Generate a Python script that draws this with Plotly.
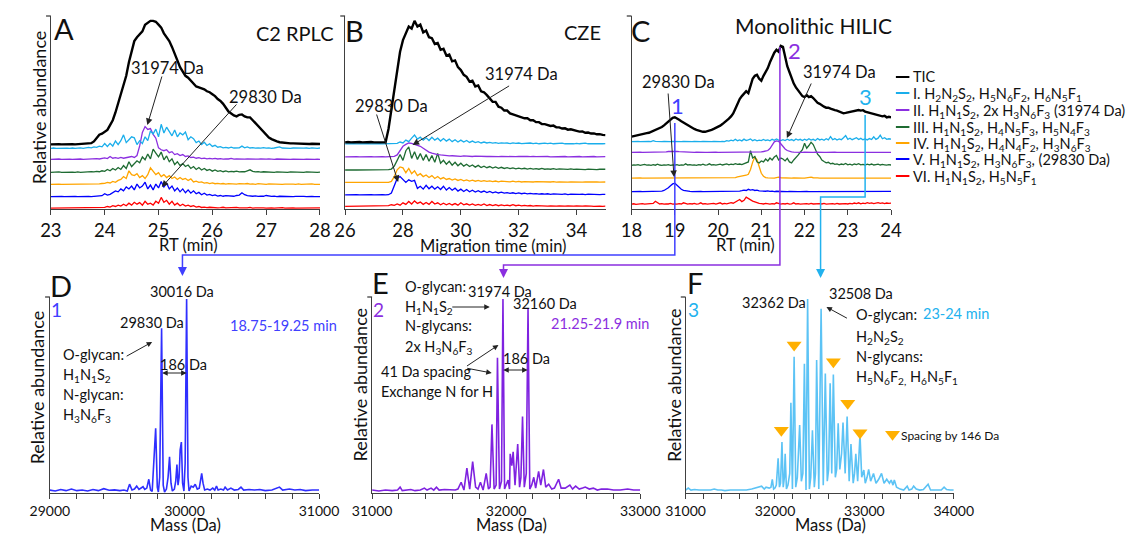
import numpy as np
import plotly.graph_objects as go

W, H = 1131, 535
FONT = "Lato"

# ---------------- DATA ----------------
# Panel A (C2 RPLC), RT 23.00 -> 28.00, step 0.05 min; intensities above each trace baseline
A_RT = (23.0, 28.0)
A_TIC = [0, 0.1, 0, 0.1, 0, 0.1, 0, 0, 0.1, 0,
         0.1, 0, 0.2, 0.3, 0.4, 0.6, 1.5, 3, 5, 5.5,
         6.5, 7.5, 10, 12.5, 16.5, 21.5, 26.5, 31.5, 35.5, 42.5,
         48.5, 53.5, 55.5, 57, 58.5, 62, 63, 64, 64, 63.5,
         62, 60.5, 57.5, 55.5, 53.5, 50.5, 46.5, 43.5, 40, 37.5,
         35.5, 34.5, 33, 31, 30, 29.5, 29, 28.5, 27.5, 27,
         26, 25, 23.5, 22.5, 21, 19, 17, 16, 15, 14.5,
         15.3, 15.5, 14.5, 14, 14, 12.5, 11, 9.5, 7.5, 6,
         4.5, 3.5, 2.7, 2, 1.5, 1.1, 0.9, 0.7, 0.6, 0.5,
         0.5, 0.4, 0.4, 0.3, 0.3, 0.3, 0.2, 0.3, 0.2, 0.2, 0.2]
A_I = [0, 0.2, 0, 0.1, 0, 0.3, 0.1, 0, 0.2, 0,
       0.1, 0.3, 0, 0.2, 0.5, 0.3, 0.8, 0.5, 1.2, 0.8,
       2.5, 1, 2.6, 1.2, 3.8, 2, 4, 7, 3, 4.5,
       6, 5.5, 2, 4, 2.5, 6, 4, 9, 7.5, 10,
       6, 12.5, 8, 11, 9, 6.5, 9.5, 6, 8, 7,
       8.5, 4.5, 6, 5, 3, 3.8, 2, 3.2, 1.5, 2.4,
       1, 1.6, 0.6, 0.9, 0.3, 0.5, 0.2, 0.6, 0.2, 0.4,
       0.3, 1.2, 0.3, 0.8, 0.2, 0.4, 0.1, 0.3, 0.1, 0.4,
       0.1, 0.3, 0, 0.2, 0.4, 0.8, 0.2, 0.1, 0.3, 0,
       0.2, 0.1, 0.3, 0, 0.1, 0.2, 0, 0.3, 0.1, 0, 0.2]
A_II = [0, 0.1, 0, 0.2, 0, 0.1, 0, 0.1, 0, 0.1,
        0, 0.2, 0, 0.1, 0.3, 0.1, 0.2, 0.4, 0.2, 0.5,
        0.8, 0.4, 1.5, 0.6, 0.9, 0.5, 1, 0.6, 0.8, 1.2,
        1.5, 1, 2, 7, 14, 17, 15.5, 16, 13, 11,
        6, 5, 4.5, 5, 3.5, 4, 2.5, 3, 2, 2.5,
        1.5, 1.8, 1, 1.2, 0.6, 0.9, 0.4, 0.7, 0.3, 0.5,
        0.3, 0.5, 0.2, 0.4, 0.1, 0.3, 0.2, 0.5, 0.1, 0.3,
        0.2, 0.4, 0.1, 0.3, 0.2, 0.1, 0.3, 0.1, 0.2, 0,
        0.1, 0.3, 0.1, 0, 0.2, 0.1, 0, 0.2, 0.1, 0,
        0.1, 0, 0.2, 0.1, 0, 0.1, 0, 0.2, 0, 0.1, 0]
A_III = [0, 0.1, 0, 0.2, 0, 0.1, 0.2, 0, 0.1, 0,
         0.2, 0, 0.1, 0.3, 0.1, 0.4, 0.2, 0.5, 0.3, 0.8,
         0.5, 1.5, 0.8, 2, 1.2, 2.5, 1.5, 3.5, 2, 5.5,
         3, 4.5, 6, 5, 8, 6.5, 9.5, 7, 12, 10,
         8, 10.5, 6.5, 8.5, 5.5, 7, 4, 5.5, 3.5, 4.5,
         3, 3.8, 2, 3, 1.5, 2.5, 1.2, 2, 1, 1.5,
         0.6, 1.2, 0.5, 0.9, 0.3, 0.7, 0.2, 0.5, 0.3, 0.6,
         0.2, 0.4, 0.3, 0.8, 1.3, 0.5, 0.2, 0.4, 0.1, 0.3,
         0.2, 0.1, 0.3, 0, 0.2, 0.1, 0.3, 0.1, 0, 0.2,
         0.1, 0, 0.2, 0.1, 0, 0.2, 0.1, 0, 0.1, 0, 0.1]
A_IV = [0, 0.1, 0, 0.1, 0, 0, 0.1, 0, 0.1, 0,
        0.1, 0, 0.2, 0, 0.1, 0.2, 0.1, 0.3, 0.2, 0.4,
        0.5, 1, 0.7, 1.5, 1, 2, 2.5, 4, 3, 7,
        5, 4.5, 5.5, 3.5, 4.5, 3, 5, 8.5, 7, 5,
        6, 4, 5, 3.5, 4.5, 3, 3.8, 2.5, 3.5, 2.5,
        3, 2, 2.8, 1.2, 1.6, 1, 1.2, 0.6, 0.9, 0.4,
        0.7, 0.3, 0.5, 0.2, 0.4, 0.1, 0.3, 0.2, 0.4, 0.1,
        0.3, 0.1, 0.2, 0.4, 0.1, 0.2, 0, 0.3, 0.1, 0.2,
        0, 0.2, 0.1, 0, 0.2, 0.1, 0, 0.1, 0.2, 0,
        0.1, 0, 0.2, 0, 0.1, 0, 0.1, 0.2, 0, 0.1, 0]
A_V = [0, 0.1, 0, 0, 0.1, 0, 0.1, 0, 0, 0.1,
       0, 0.1, 0, 0.2, 0.1, 0, 0.2, 0.1, 0.3, 0.5,
       1.5, 0.8, 1.2, 2, 3, 2.5, 4, 3, 5, 4,
       5.5, 3.5, 6.5, 4.5, 5.5, 7.5, 4, 6, 3.5, 6.5,
       4.5, 7.8, 5, 7, 4, 5.5, 3, 4.5, 2.5, 4,
       2, 3.5, 1.8, 3, 1.5, 2.2, 1, 1.8, 0.8, 1.2,
       0.5, 0.9, 0.3, 0.6, 0.2, 0.5, 0.3, 0.4, 0.2, 0.6,
       0.8, 2, 1, 0.5, 0.3, 0.2, 0.4, 0.1, 0.3, 0.2,
       0.6, 0.2, 0.1, 0.3, 0, 0.2, 0.1, 0, 0.2, 0.1,
       0, 0.1, 0.2, 0, 0.1, 0, 0.2, 0.1, 0, 0.1, 0]
A_VI = [0, 0, 0.1, 0, 0, 0.1, 0, 0, 0.1, 0,
        0, 0.1, 0, 0, 0.1, 0, 0.2, 0.1, 0.3, 0.2,
        0.3, 0.8, 0.5, 1.2, 0.8, 1.5, 1, 2, 1.2, 2.5,
        1.5, 3, 2, 2.8, 1.5, 3.5, 2, 2.5, 1.5, 3.5,
        2.5, 5.5, 3, 4, 2, 3.5, 1.5, 2.5, 1.2, 2,
        1, 1.5, 0.8, 1.2, 0.5, 0.8, 0.3, 0.5, 0.2, 0.4,
        0.2, 0.3, 0.1, 0.2, 0.4, 0.1, 0.2, 0, 0.1, 0.3,
        0.1, 0, 0.2, 0.1, 0.3, 0, 0.1, 0.2, 0, 0.1,
        0, 0.2, 0.1, 0, 0.1, 0, 0.2, 0, 0.1, 0,
        0.1, 0, 0, 0.1, 0, 0.2, 0, 0.1, 0, 0, 0.1]

# Panel B (CZE), migration time 26.0 -> 35.0, step 0.1 min
B_MT = (26.0, 35.0)
B_TIC = [0, 0.2, 0, 0.1, 0, 0.2, 0, 0.1, 0, 0.2,
         0, 0.1, 0, 0.2, 0.1, 7, 17, 27, 38, 47,
         53, 57, 60, 59, 63, 60, 61, 57, 58, 54.5,
         54, 51, 51.5, 48, 48.5, 45, 45.5, 42, 42.5, 39,
         37.5, 35, 34, 31.5, 32, 29, 29.5, 26.5, 26, 24.5,
         23, 21, 21, 18.5, 18, 16.5, 16.5, 15, 14.5, 14,
         13.5, 13, 12.5, 12.5, 11.5, 11.5, 10.5, 10.5, 9.5, 9.5,
         9, 8.5, 8.7, 7.8, 7.8, 7.2, 7.3, 6.6, 6.8, 6.2,
         6, 5.6, 5.7, 5, 5.1, 4.6, 4.7, 4.2, 4.3, 3.9, 3.8]
B_I = [0, 0.1, 0, 0.2, 0, 0.1, 0, 0.1, 0.2, 0,
       0.1, 0, 0.2, 0, 0.1, 0, 0.2, 0.1, 0.3, 1,
       0.5, 2, 1.2, 3, 4.6, 2.5, 3.5, 2, 3.2, 1.8,
       3.5, 2, 3, 1.5, 2.8, 1.5, 2.5, 1.2, 2.2, 1,
       2, 1, 1.8, 0.8, 1.5, 0.7, 1.2, 0.5, 1, 0.5,
       0.8, 0.4, 0.7, 0.3, 0.6, 0.4, 0.5, 0.2, 0.6, 0.3,
       0.5, 0.2, 0.4, 0.3, 0.5, 0.2, 0.4, 0.1, 0.3, 0.4,
       0.2, 0.4, 0.1, 0.3, 0.2, 0.4, 0.1, 0.3, 0.2, 0.1,
       0.3, 0.1, 0.2, 0.4, 0.1, 0.2, 0.3, 0.1, 0.2, 0.1, 0.2]
B_II = [0, 0.1, 0, 0, 0.1, 0, 0.1, 0, 0, 0.1,
        0, 0.1, 0, 0.1, 0, 0.1, 0.2, 0.3, 1, 3.5,
        5.5, 6.5, 7.2, 7, 6.5, 6, 5.5, 4.5, 3.5, 2.5,
        2, 1.5, 1.2, 1, 0.8, 0.7, 0.5, 0.6, 0.4, 0.5,
        0.3, 0.5, 0.3, 0.4, 0.2, 0.4, 0.3, 0.2, 0.4, 0.2,
        0.3, 0.2, 0.4, 0.1, 0.3, 0.2, 0.1, 0.3, 0.2, 0.1,
        0.2, 0.3, 0.1, 0.2, 0.1, 0.3, 0.1, 0.2, 0, 0.1,
        0.2, 0, 0.1, 0.2, 0, 0.1, 0.2, 0, 0.1, 0,
        0.1, 0.2, 0, 0.1, 0, 0.1, 0.2, 0, 0.1, 0, 0.1]
B_III = [0, 0.1, 0, 0.1, 0, 0, 0.1, 0, 0.1, 0,
         0.1, 0, 0.1, 0, 0.1, 0.2, 0.5, 2, 5, 8,
         5, 10, 12, 6, 9.5, 5.5, 8.5, 5, 8, 4.5,
         7.5, 4, 8.6, 3.5, 5, 3, 4.5, 2.5, 4, 2.2,
         3.5, 2, 3, 1.8, 2.6, 1.5, 2.4, 1.3, 2, 1.2,
         1.8, 1, 1.6, 0.9, 1.4, 0.8, 1.2, 0.7, 1.1, 0.6,
         1, 0.6, 0.9, 0.5, 0.8, 0.5, 0.7, 0.4, 0.8, 0.4,
         0.6, 0.4, 0.7, 0.3, 0.6, 0.4, 0.5, 0.3, 0.6, 0.3,
         0.5, 0.3, 0.4, 0.2, 0.5, 0.3, 0.4, 0.2, 0.4, 0.3, 0.4]
B_IV = [0, 0, 0.1, 0, 0, 0.1, 0, 0, 0.1, 0,
        0, 0.1, 0, 0, 0.1, 0, 0.5, 3, 6.5, 8,
        7.5, 5, 7.2, 4.5, 6, 3.5, 4.5, 3, 3.8, 2.5,
        3.5, 2, 3, 1.8, 2.5, 1.5, 2, 1.2, 1.8, 1,
        1.5, 0.8, 1.3, 0.7, 1.1, 0.6, 1, 0.5, 0.9, 0.5,
        0.8, 0.4, 0.7, 0.3, 0.6, 0.4, 0.5, 0.3, 0.6, 0.3,
        0.5, 0.2, 0.4, 0.3, 0.5, 0.2, 0.4, 0.3, 0.2, 0.4,
        0.3, 0.2, 0.4, 0.1, 0.3, 0.2, 0.4, 0.1, 0.3, 0.2,
        0.2, 0.3, 0.1, 0.2, 0.3, 0.1, 0.2, 0.3, 0.1, 0.2, 0.2]
B_V = [0, 0.1, 0, 0, 0.1, 0, 0.1, 0, 0, 0.1,
       0, 0.1, 0, 0.1, 0, 0.1, 1, 5, 8.5, 9.5,
       8, 6.5, 7.8, 7, 7.5, 3.4, 4.5, 3, 5, 3.2,
       4.5, 3, 4.2, 2.8, 4.5, 2.5, 3.8, 2.4, 3.5, 2,
       3, 1.8, 2.8, 1.6, 2.4, 1.5, 2.2, 1.4, 2, 1.2,
       1.8, 1.1, 1.6, 1, 1.4, 0.9, 1.2, 0.8, 1.1, 0.7,
       1, 0.6, 0.9, 0.5, 0.8, 0.5, 0.7, 0.4, 0.6, 0.4,
       0.6, 0.3, 0.5, 0.4, 0.6, 0.3, 0.5, 0.2, 0.4, 0.3,
       0.5, 0.3, 0.4, 0.2, 0.4, 0.3, 0.2, 0.4, 0.2, 0.3, 0.3]
B_VI = [0, 0, 0.1, 0, 0, 0.1, 0, 0, 0.1, 0,
        0, 0.1, 0, 0, 0.1, 0.3, 0.8, 0.5, 1.2, 0.6,
        1.8, 1, 2.5, 1.2, 2.8, 1.5, 2.2, 1, 2, 1,
        2.5, 1.2, 1.8, 0.8, 1.6, 0.8, 1.5, 0.7, 1.4, 0.6,
        1.8, 0.8, 1.3, 0.6, 1.2, 0.5, 1, 0.5, 1.2, 0.4,
        0.9, 0.4, 0.8, 0.3, 0.7, 0.4, 0.6, 0.3, 0.8, 0.3,
        0.6, 0.2, 0.5, 0.2, 0.4, 0.1, 0.3, 0.2, 0.1, 0.2,
        0.1, 0.2, 0, 0.1, 0.2, 0, 0.1, 0.2, 0, 0.1,
        0.2, 0, 0.1, 0.2, 0, 0.1, 0, 0.2, 0.1, 0, 0.1]

# Panel C (monolithic HILIC), RT 18.00 -> 24.00, step 0.05 min
C_RT = (18.0, 24.0)
C_TIC = [0, 0.3, 0.5, 0.7, 1, 1.3, 1.5, 1.8, 2, 2.5,
         2.8, 3.3, 3.7, 4.3, 5, 5.8, 6.8, 8, 9, 9.7,
         10, 9.5, 8.7, 8, 7.3, 6.5, 5.7, 5, 4.5, 4,
         3.5, 3.1, 2.8, 2.5, 2.5, 2.7, 3, 3.5, 4, 4.5,
         5.1, 5.7, 6.5, 7.3, 8.3, 9.3, 10.5, 12, 14.5, 17.5,
         19.5, 21, 22, 23.5, 22.5, 26.5, 30, 31.5, 32, 30,
         29, 31.5, 33.5, 35.5, 38.5, 41, 43.5, 45, 44, 47,
         46.5, 41.5, 36.5, 33.5, 30, 27.5, 25.5, 24, 22.5, 21,
         20.5, 21.5, 20.5, 21, 20, 18.5, 17.5, 17, 16, 15.5,
         15, 15, 14.5, 14, 13.7, 13.5, 13, 12.5, 12.1, 12.3,
         12.5, 12.8, 13, 13.3, 13.5, 13.8, 13.5, 13.7, 13, 12.7,
         12.3, 12, 11.7, 11.5, 11, 10.7, 10.5, 10.8, 10, 10.3, 10]
C_I = [0, 0.1, 0, 0.1, 0, 0.1, 0, 0, 0.1, 0,
       0.5, 0.1, 0, 0.1, 0, 0.1, 0, 0.1, 0, 0.1,
       0, 0.1, 0, 0, 0.1, 0, 0.1, 0, 0, 0.1,
       0, 0.1, 0, 0.1, 0, 0, 0.1, 0, 0.1, 0,
       0.1, 0, 0.1, 0, 0.5, 0.3, 0.8, 0.4, 1.2, 0.5,
       0.9, 0.4, 1.3, 0.6, 0.9, 1.4, 0.5, 1, 0.4, 0.8,
       0.5, 1.1, 0.6, 0.9, 0.4, 1.2, 0.7, 1.4, 0.8, 0.5,
       1, 0.6, 1.3, 0.7, 1.1, 0.5, 1.4, 0.8, 1.2, 0.6,
       1.3, 0.7, 1.5, 0.8, 1.2, 0.6, 1.6, 0.9, 1.3, 0.7,
       1.5, 0.9, 2.6, 1, 1.6, 0.8, 1.4, 1, 2, 3.1,
       1.2, 1.8, 1, 1.5, 2, 1.1, 1.7, 1, 1.4, 0.9,
       1.6, 1.1, 2.5, 1.2, 1.8, 3.4, 1.5, 2, 1.2, 1.5, 1.3]
C_II = [0, 0.1, 0, 0, 0.1, 0, 0, 0.1, 0, 0,
        0.1, 0, 0, 0.1, 0, 0.2, 0.3, 0.5, 0.6, 0.7,
        0.7, 0.6, 0.4, 0.3, 0.2, 0.1, 0, 0.1, 0, 0,
        0.1, 0, 0, 0.1, 0, 0, 0.1, 0, 0, 0.1,
        0, 0, 0.1, 0, 0, 0.1, 0, 0, 0.1, 0,
        0, 0.1, 0, 0.2, 0.1, 0.3, 0.2, 0.1, 0.2, 0.1,
        0.3, 0.5, 0.8, 1, 2, 3.5, 5.5, 6, 5.8, 4.5,
        3, 1.8, 1, 0.5, 0.3, 0.2, 0.1, 0, 0.1, 0,
        0.1, 0, 0, 0.1, 0, 0.1, 0, 0, 0.1, 0,
        0, 0.1, 0, 0, 0.1, 0, 0, 0.1, 0, 0,
        0.1, 0, 0, 0.1, 0, 0, 0.1, 0, 0, 0.1,
        0, 0, 0.1, 0, 0, 0.1, 0, 0, 0.1, 0, 0]
C_III = [0.2, 0.5, 0.3, 0.6, 0.2, 0.4, 0.7, 0.3, 0.5, 0.2,
         0.6, 0.3, 0.8, 0.4, 0.2, 0.5, 0.3, 0.6, 0.2, 0.4,
         0.3, 0.6, 0.2, 0.5, 0.3, 1, 0.4, 0.6, 0.3, 0.5,
         0.2, 0.6, 0.4, 0.8, 0.3, 0.5, 1, 0.4, 0.6, 0.3,
         0.5, 0.8, 0.4, 0.7, 1, 0.5, 0.8, 0.6, 1.1, 0.7,
         0.9, 0.6, 1.2, 1.5, 2, 7.8, 4, 4.8, 2, 1.4,
         2.5, 2, 3.5, 2.5, 4, 3, 4.5, 5.3, 3, 4,
         3.5, 2.5, 3.8, 2, 1.5, 3, 4, 5.5, 7, 8.3,
         11.7, 9.1, 10.5, 12.2, 11, 8.5, 6, 4.8, 3, 2.2,
         1.5, 1.8, 1, 1.3, 0.7, 1, 0.5, 0.9, 0.6, 1.2,
         0.5, 0.8, 0.4, 0.9, 0.6, 1.1, 0.5, 0.7, 0.4, 0.8,
         0.5, 0.9, 0.4, 0.6, 0.8, 0.4, 0.7, 0.5, 0.3, 0.6, 0.4]
C_IV = [0, 0.1, 0, 0, 0.1, 0, 0, 0.1, 0, 0,
        0.1, 0, 0, 0.1, 0, 0, 0.1, 0, 0, 0.1,
        0, 0, 0.1, 0, 0, 0.1, 0, 0, 0.1, 0,
        0, 0.1, 0, 0, 0.1, 0, 0, 0.1, 0, 0,
        0.1, 0, 0, 0.1, 0, 0.1, 0.2, 0.1, 0.3, 0.6,
        0.8, 1, 1.3, 1.5, 2, 4.5, 8.3, 10.9, 9.5, 6,
        2.5, 1, 0.3, 0.1, 0, 0.1, 0, 0.3, 0.5, 0.2,
        0.1, 0, 0.1, 0, 0, 0.1, 0, 0, 0.1, 0,
        0, 0.1, 0.2, 0.5, 0.2, 0, 0.1, 0, 0, 0.1,
        0, 0, 0.1, 0, 0, 0.1, 0, 0, 0.1, 0,
        0, 0.1, 0, 0, 0.1, 0, 0, 0.1, 0, 0,
        0.1, 0, 0, 0.1, 0, 0, 0.1, 0, 0, 0.1, 0]
C_V = [0, 0.1, 0, 0, 0.1, 0, 0, 0.1, 0, 0,
       0.1, 0, 0.1, 0.2, 0.3, 0.6, 1.2, 2, 3, 4,
       4.3, 3.2, 2, 1.2, 0.7, 0.4, 0.2, 0.1, 0, 0.1,
       0, 0, 0.1, 0, 0, 0.1, 0, 0, 0.1, 0,
       0, 0.1, 0, 0, 0.1, 0, 0.2, 0, 0.1, 0.2,
       0.3, 0.5, 0.8, 0.6, 1.2, 0.8, 1, 0.6, 0.8, 0.4,
       0.3, 0.5, 0.2, 0.4, 0.1, 0.3, 0, 0.2, 0.1, 0,
       0.1, 0, 0, 0.1, 0, 0, 0.1, 0, 0, 0.1,
       0, 0.1, 0, 0, 0.1, 0, 0, 0.1, 0, 0,
       0.1, 0, 0, 0.1, 0, 0, 0.1, 0, 0, 0.1,
       0, 0, 0.1, 0, 0, 0.1, 0, 0, 0.1, 0,
       0, 0.1, 0, 0, 0.1, 0, 0, 0.1, 0, 0, 0.1]
C_VI = [0.2, 0.4, 0.1, 0.3, 0.2, 0.5, 0.2, 0.3, 0.1, 0.4,
        0.6, 1.7, 0.8, 0.3, 0.5, 0.2, 0.4, 0.3, 0.6, 0.2,
        0.4, 0.2, 0.5, 0.3, 0.9, 0.4, 0.2, 0.5, 0.3, 0.6,
        0.2, 0.4, 0.9, 0.3, 0.5, 0.2, 0.4, 0.3, 0.6, 0.2,
        0.5, 0.9, 0.3, 0.6, 0.4, 0.8, 1, 0.7, 1.2, 1.8,
        2.6, 1.5, 2.2, 3.8, 3, 2.6, 1.8, 1.4, 0.9, 0.6,
        0.5, 0.3, 0.6, 0.4, 0.2, 0.5, 0.3, 0.9, 0.4, 0.2,
        0.5, 0.3, 0.6, 0.2, 0.4, 0.9, 0.3, 0.5, 0.2, 0.4,
        0.3, 0.5, 0.2, 0.6, 0.3, 0.4, 0.2, 0.5, 0.3, 0.6,
        0.2, 0.4, 0.3, 0.5, 0.2, 0.6, 0.3, 0.4, 0.2, 0.5,
        0.3, 0.6, 0.4, 0.8, 0.5, 0.9, 0.4, 0.7, 0.5, 1,
        0.6, 0.9, 0.5, 0.8, 1, 0.6, 0.9, 0.5, 0.8, 0.6, 0.7]

# stacking baselines of the traces (TIC, I..VI)
A_OFFSETS = [33.5, 31.4, 25.7, 19.0, 12.8, 6.4, 0.5]
B_OFFSETS = [34.5, 33.7, 27.0, 20.2, 13.8, 7.3, 1.4]
C_OFFSETS = [37.5, 34.9, 29.3, 22.4, 16.0, 9.0, 2.3]

# Deconvoluted mass spectra
D_MASS = [29000, 29040, 29080, 29120, 29160, 29200, 29240, 29280, 29320, 29360,
          29400, 29440, 29480, 29520, 29550, 29575, 29592, 29610, 29628, 29645,
          29662, 29680, 29692, 29705, 29720, 29735, 29748, 29760, 29772, 29786,
          29798, 29806, 29816, 29830, 29842, 29852, 29866, 29878, 29889, 29900,
          29910, 29925, 29935, 29944, 29952, 29960, 29968, 29977, 29986, 29996,
          30005, 30016, 30026, 30034, 30050, 30065, 30080, 30095, 30110, 30120,
          30128, 30138, 30150, 30170, 30190, 30210, 30225, 30238, 30250, 30270,
          30290, 30302, 30320, 30345, 30370, 30400, 30420, 30440, 30480, 30520,
          30560, 30600, 30650, 30706, 30730, 30780, 30820, 30860, 30900, 30950, 31000]
D_INT = [1.5, 1.0, 1.8, 1.2, 2.0, 1.2, 1.5, 1.0, 1.8, 1.2,
         2.2, 1.4, 1.6, 1.2, 1.5, 1.0, 4.5, 1.5, 2.0, 3.5,
         1.8, 2.5, 3.2, 1.8, 2.5, 7.0, 1.5, 0.8, 14, 33,
         3, 0.5, 8, 84, 4, 0.5, 2, 8, 18.5, 5,
         1, 2, 6, 14.5, 4, 8, 22, 26, 5, 1,
         15, 99, 8, 1, 3.5, 3, 4.5, 2, 2.5, 6,
         10, 5, 1.5, 2, 1.5, 2.5, 1.5, 3.5, 1.5, 2,
         1.5, 3, 1.5, 2.5, 1.5, 1.8, 3, 1.5, 1.8, 1.5,
         1.8, 1.2, 1.5, 3, 1.5, 2, 1.5, 1.8, 1.2, 1.5, 1.5]

E_MASS = [31000, 31050, 31100, 31150, 31190, 31209, 31225, 31260, 31289, 31320,
          31360, 31390, 31410, 31440, 31460, 31480, 31500, 31540, 31580, 31620,
          31640, 31664, 31685, 31707, 31728, 31750, 31772, 31790, 31808, 31828,
          31851, 31868, 31880, 31894, 31910, 31925, 31935, 31950, 31965, 31976,
          31988, 32000, 32014, 32025, 32030, 32042, 32052, 32066, 32086, 32100,
          32110, 32122, 32135, 32150, 32163, 32176, 32190, 32206, 32220, 32242,
          32258, 32278, 32295, 32317, 32340, 32360, 32391, 32410, 32440, 32475,
          32495, 32518, 32545, 32570, 32590, 32620, 32650, 32680, 32710, 32755,
          32800, 32850, 32906, 32950, 33000]
E_INT = [1.5, 1.0, 1.5, 1.2, 1.5, 3, 1.2, 1.5, 1.8, 1.2,
         1.5, 2.5, 1.5, 2.5, 1.5, 3, 1.5, 1.8, 1.5, 1.5,
         2, 5.5, 1.5, 12.7, 2, 16, 3, 2, 5.5, 1.5,
         10, 2, 3, 35, 2, 4, 69, 2, 6, 99,
         2, 4, 6.6, 2, 20, 14, 21, 4, 25, 3,
         8, 39, 3, 10, 94, 2, 4, 8, 2.5, 11,
         4, 12, 3, 4.5, 2, 2.5, 7, 2.5, 2.5, 4,
         2, 3.5, 2, 2.5, 3, 2, 2.5, 1.5, 2, 2,
         1.5, 1.5, 2, 1.5, 1.5]

F_MASS = [31000, 31030, 31060, 31100, 31150, 31200, 31240, 31280, 31320, 31360,
          31400, 31440, 31500, 31560, 31620, 31680, 31740, 31780, 31820, 31850,
          31880, 31900, 31935, 31955, 31970, 31985, 32000, 32015, 32035, 32050,
          32062, 32078, 32092, 32105, 32114, 32128, 32145, 32165, 32178, 32195,
          32214, 32232, 32250, 32276, 32295, 32312, 32329, 32347, 32365, 32385,
          32400, 32419, 32440, 32453, 32466, 32490, 32516, 32540, 32563, 32585,
          32600, 32617, 32635, 32653, 32675, 32690, 32707, 32725, 32745, 32761,
          32785, 32807, 32830, 32850, 32875, 32890, 32904, 32925, 32951, 32970,
          32994, 33010, 33030, 33048, 33070, 33102, 33130, 33160, 33192, 33220,
          33250, 33280, 33300, 33320, 33335, 33360, 33400, 33440, 33479, 33500,
          33530, 33551, 33580, 33620, 33660, 33713, 33740, 33780, 33820, 33860,
          33892, 33920, 33960, 34000]
F_INT = [1.5, 2.5, 1.5, 1.8, 1.5, 1.5, 1.2, 1.5, 2, 1.5,
         1.5, 1.2, 1.5, 1.5, 1.5, 1.5, 2, 2.5, 3, 3.5,
         2, 3, 2.5, 3, 7, 2, 2.5, 4, 17.7, 3,
         5, 26, 3, 8, 20, 2, 4, 10, 46, 2,
         69.5, 3, 8, 34.7, 6, 10, 66, 1.5, 99, 2,
         8, 32, 3, 10, 67.8, 2, 94, 4, 61, 6,
         12, 56, 10, 60.5, 8, 12, 35.6, 12, 20, 36,
         10, 39, 6, 25, 5, 10, 20, 6, 30, 8,
         11.7, 5, 8, 12, 6, 10, 5, 7, 10, 5,
         7, 5, 6.6, 4, 6.6, 3, 2, 1.5, 3.5, 1.5,
         2, 3.5, 2, 1.5, 1.8, 4.5, 1.5, 1.5, 1.8, 1.5,
         3, 1.8, 1.5, 1.5]

# orange "146 Da spacing" markers in F (mass, height)
F_TRI_MASS = [32071, 32214, 32372, 32520, 32653, 32814, 32951]
F_TRI_Y = [32, 75.5, 105, 100.5, 67, 45.8, 30.8]

# ---------------- STYLE ----------------
COLORS = ["#000000", "#1AAEEB", "#8B2FE0", "#1E6B32", "#FFA500", "#0000FF", "#FF0000"]
LEGEND = [
    "TIC",
    "I. H<sub>2</sub>N<sub>2</sub>S<sub>2</sub>, H<sub>5</sub>N<sub>6</sub>F<sub>2</sub>, H<sub>6</sub>N<sub>5</sub>F<sub>1</sub>",
    "II. H<sub>1</sub>N<sub>1</sub>S<sub>2</sub>, 2x H<sub>3</sub>N<sub>6</sub>F<sub>3</sub> (31974 Da)",
    "III. H<sub>1</sub>N<sub>1</sub>S<sub>2</sub>, H<sub>4</sub>N<sub>5</sub>F<sub>3</sub>, H<sub>5</sub>N<sub>4</sub>F<sub>3</sub>",
    "IV. H<sub>1</sub>N<sub>1</sub>S<sub>2</sub>, H<sub>4</sub>N<sub>4</sub>F<sub>2</sub>, H<sub>3</sub>N<sub>6</sub>F<sub>3</sub>",
    "V. H<sub>1</sub>N<sub>1</sub>S<sub>2</sub>, H<sub>3</sub>N<sub>6</sub>F<sub>3</sub>, (29830 Da)",
    "VI. H<sub>1</sub>N<sub>1</sub>S<sub>2</sub>, H<sub>5</sub>N<sub>5</sub>F<sub>1</sub>",
]
BLUE_T, PURP_T, CYAN_T = "#4040FF", "#8B2FE0", "#22B2EE"
AXC = "#404040"

# panel geometry in pixels (left, right, top, bottom) and data ranges
PANELS = {
    "A": dict(n="", px=(32, 311), py=(16, 209), xr=A_RT),
    "B": dict(n="2", px=(337, 607), py=(16, 209), xr=B_MT),
    "C": dict(n="3", px=(634, 903), py=(16, 209), xr=C_RT),
    "D": dict(n="4", px=(31, 310), py=(297, 493), xr=(29000, 31000)),
    "E": dict(n="5", px=(365, 643), py=(297, 493), xr=(31000, 33000)),
    "F": dict(n="6", px=(690, 968), py=(297, 493), xr=(31000, 34000)),
}


def fx(px):
    return px / W


def fy(py):
    return 1 - py / H


def data_px(panel, v):
    p = PANELS[panel]
    return p["px"][0] + (v - p["xr"][0]) / (p["xr"][1] - p["xr"][0]) * (p["px"][1] - p["px"][0])


fig = go.Figure()

# ---- top chromatograms ----
top = [("A", [A_TIC, A_I, A_II, A_III, A_IV, A_V, A_VI], A_OFFSETS),
       ("B", [B_TIC, B_I, B_II, B_III, B_IV, B_V, B_VI], B_OFFSETS),
       ("C", [C_TIC, C_I, C_II, C_III, C_IV, C_V, C_VI], C_OFFSETS)]
for key, series, offs in top:
    p = PANELS[key]
    for k in range(6, -1, -1):
        vals = np.asarray(series[k], dtype=float)
        xs = np.linspace(p["xr"][0], p["xr"][1], len(vals))
        fig.add_trace(go.Scatter(
            x=xs, y=vals + offs[k], mode="lines",
            line=dict(color=COLORS[k], width=2.4 if k == 0 else 1.3),
            xaxis="x" + p["n"], yaxis="y" + p["n"], hoverinfo="skip"))

# ---- bottom spectra ----
for key, mass, inten, col in [("D", D_MASS, D_INT, "#2F2FFF"),
                              ("E", E_MASS, E_INT, "#7F22E0"),
                              ("F", F_MASS, F_INT, "#5CC3F5")]:
    p = PANELS[key]
    fig.add_trace(go.Scatter(x=mass, y=inten, mode="lines",
                             line=dict(color=col, width=1.6),
                             xaxis="x" + p["n"], yaxis="y" + p["n"], hoverinfo="skip"))

fig.add_trace(go.Scatter(x=F_TRI_MASS, y=F_TRI_Y, mode="markers",
                         marker=dict(symbol="triangle-down", size=13, color="#FFB000"),
                         cliponaxis=False, xaxis="x6", yaxis="y6", hoverinfo="skip"))
fig.add_trace(go.Scatter(x=[33315], y=[30], mode="markers",
                         marker=dict(symbol="triangle-down", size=13, color="#FFB000"),
                         cliponaxis=False, xaxis="x6", yaxis="y6", hoverinfo="skip"))

# ---- axes ----
layout_axes = {}
for key, p in PANELS.items():
    n = p["n"]
    bottom = key in "DEF"
    ax = dict(domain=[fx(p["px"][0]), fx(p["px"][1])], range=list(p["xr"]),
              anchor="y" + n, showline=True, linecolor=AXC, linewidth=1.3,
              ticks="outside", ticklen=5, tickwidth=1.2, tickcolor=AXC,
              showgrid=False, zeroline=False, fixedrange=True, tickformat="d")
    if bottom:
        ax.update(tickmode="linear", tick0=p["xr"][0], dtick=1000,
                  tickfont=dict(family=FONT, size=14, color="#111"),
                  minor=dict(tickmode="linear", tick0=p["xr"][0], dtick=200,
                             ticks="outside", ticklen=5, tickwidth=1.2, tickcolor=AXC,
                             showgrid=False))
    else:
        ax.update(tickmode="linear", tick0=p["xr"][0], dtick=2 if key == "B" else 1,
                  tickfont=dict(family=FONT, size=18.5, color="#111"))
    layout_axes["xaxis" + n] = ax
    layout_axes["yaxis" + n] = dict(
        domain=[fy(p["py"][1]), fy(p["py"][0])], range=[0, 100],
        anchor="x" + n, showline=True, linecolor=AXC, linewidth=1.3,
        ticks="", showticklabels=False, showgrid=False, zeroline=False, fixedrange=True)

shapes = []
annotations = []

# y-axis top caps
for key, p in PANELS.items():
    shapes.append(dict(type="line", xref="paper", yref="paper",
                       x0=fx(p["px"][0] - 5), x1=fx(p["px"][0]),
                       y0=fy(p["py"][0]), y1=fy(p["py"][0]),
                       line=dict(color=AXC, width=1.3)))


def txt(text, px, py, size, color="#111", xanchor="center", angle=0):
    annotations.append(dict(text=text, x=fx(px), y=fy(py), xref="paper", yref="paper",
                            showarrow=False, xanchor=xanchor, yanchor="middle",
                            textangle=angle,
                            font=dict(family=FONT, size=size, color=color)))


def arrow(tail, head, color="#222", width=1.0, both=False, size=1.3):
    annotations.append(dict(text="", x=fx(head[0]), y=fy(head[1]), xref="paper", yref="paper",
                            ax=tail[0] - head[0], ay=tail[1] - head[1],
                            axref="pixel", ayref="pixel", showarrow=True,
                            arrowhead=2, arrowsize=size, arrowwidth=width,
                            arrowcolor=color, arrowside="end+start" if both else "end",
                            standoff=0, startstandoff=0))


# panel letters and titles
for L, (x, y) in {"A": (46, 29), "B": (347, 30), "C": (643, 30),
                  "D": (42, 285), "E": (374, 282), "F": (700, 282)}.items():
    txt(L, x, y, 29)
txt("C2 RPLC", 285, 33, 20)
txt("CZE", 583, 32, 20)
txt("Monolithic HILIC", 823, 25, 21)

# axis titles
txt("RT (min)", 175, 245, 16.5)
txt("Migration time (min)", 490, 246, 16.5)
txt("RT (min)", 752, 245, 16.5)
txt("Relative abundance", 20, 107, 18, angle=-90)
for cx in (172, 510, 840):
    txt("Mass (Da)", cx, 525, 16.5)
txt("Relative abundance", 18, 387, 18, angle=-90)
txt("Relative abundance", 352, 385, 18, angle=-90)
txt("Relative abundance", 678, 385, 18, angle=-90)

# top annotations
txt("31974 Da", 153, 68, 16.5)
arrow((147, 75), (132, 125))
txt("29830 Da", 254, 97, 16.5)
arrow((223, 103), (147, 187))
txt("29830 Da", 385, 106, 16.5)
arrow((370, 113), (392, 182))
txt("31974 Da", 520, 74, 16.5)
arrow((505, 85), (407, 145))
txt("29830 Da", 683, 82, 16.5)
arrow((672, 92), (678, 177))
txt("31974 Da", 850, 72, 16.5)
arrow((820, 82), (795, 138))
txt("1", 682, 105, 22, BLUE_T)
txt("2", 803, 50, 22, PURP_T)
txt("3", 877, 97, 22, CYAN_T)

# legend
leg_y = [77, 93, 110, 127, 143, 159, 176]
for k in range(7):
    shapes.append(dict(type="line", xref="paper", yref="paper",
                       x0=fx(908), x1=fx(922), y0=fy(leg_y[k]), y1=fy(leg_y[k]),
                       line=dict(color=COLORS[k], width=2)))
    txt(LEGEND[k], 924, leg_y[k] + (0 if k == 0 else 1.5), 14.5, xanchor="left")

# connectors from panel C to spectra
conn = [
    (BLUE_T, data_px("C", 19.0), 123, 255, data_px("D", 29985), 276),
    (PURP_T, data_px("C", 21.43), 47, 265, data_px("E", 31980), 278),
]
for col, xt, yt, ye, xb, yb in conn:
    path = f"M {fx(xt)},{fy(yt)} L {fx(xt)},{fy(ye)} L {fx(xb)},{fy(ye)} L {fx(xb)},{fy(yb - 8)}"
    shapes.append(dict(type="path", path=path, xref="paper", yref="paper",
                       line=dict(color=col, width=1.5)))
    arrow((xb, yb - 10), (xb, yb), color=col, width=1.5, size=1.2)
xc_top = data_px("C", 23.4)
xc_bot = data_px("F", 32510)
path = (f"M {fx(xc_top)},{fy(115)} L {fx(xc_top)},{fy(197)} L {fx(xc_bot)},{fy(197)} "
        f"L {fx(xc_bot)},{fy(270)}")
shapes.append(dict(type="path", path=path, xref="paper", yref="paper",
                   line=dict(color=CYAN_T, width=1.5)))
arrow((xc_bot, 268), (xc_bot, 278), color=CYAN_T, width=1.5, size=1.2)

# panel D
txt("1", 38, 309, 19, BLUE_T)
txt("30016 Da", 168, 291, 14.5)
txt("29830 Da", 137, 322, 14.5)
txt("18.75-19.25 min", 273, 325, 14.5, BLUE_T)
txt("186 Da", 170, 364, 14.5)
arrow((data_px("D", 29830), 373), (data_px("D", 30016), 373), both=True, size=1.1)
arrow((110, 357), (137, 342), size=1.1)
txt("O-glycan:", 42, 354, 14.5, xanchor="left")
txt("H<sub>1</sub>N<sub>1</sub>S<sub>2</sub>", 42, 375, 14.5, xanchor="left")
txt("N-glycan:", 42, 394, 14.5, xanchor="left")
txt("H<sub>3</sub>N<sub>6</sub>F<sub>3</sub>", 42, 415, 14.5, xanchor="left")

# panel E
txt("2", 372, 309, 19, PURP_T)
txt("31974 Da", 498, 291, 14.5)
txt("32160 Da", 544, 303, 14.5)
txt("21.25-21.9 min", 601, 323, 14.5, PURP_T)
txt("186 Da", 525, 358, 14.5)
arrow((data_px("E", 31974), 370), (data_px("E", 32160), 370), both=True, size=1.1)
txt("O-glycan:", 397, 286, 14.5, xanchor="left")
txt("H<sub>1</sub>N<sub>1</sub>S<sub>2</sub>", 397, 307, 14.5, xanchor="left")
arrow((448, 307), (487, 307), size=1.1)
txt("N-glycans:", 397, 325, 14.5, xanchor="left")
txt("2x H<sub>3</sub>N<sub>6</sub>F<sub>3</sub>", 397, 347, 14.5, xanchor="left")
txt("41 Da spacing", 372, 371, 14.5, xanchor="left")
txt("Exchange N for H", 372, 391, 14.5, xanchor="left")
arrow((463, 367), (496, 345), size=1.1)
arrow((463, 368), (489, 373), size=1.1)

# panel F
txt("3", 698, 309, 19, CYAN_T)
txt("32362 Da", 782, 302, 14.5)
txt("32508 Da", 872, 293, 14.5)
txt("23-24 min", 970, 313, 14.5, CYAN_T)
arrow((858, 319), (836, 307), size=1.1)
txt("O-glycan:", 865, 314, 14.5, xanchor="left")
txt("H<sub>2</sub>N<sub>2</sub>S<sub>2</sub>", 865, 337, 14.5, xanchor="left")
txt("N-glycans:", 865, 356, 14.5, xanchor="left")
txt("H<sub>5</sub>N<sub>6</sub>F<sub>2,</sub> H<sub>6</sub>N<sub>5</sub>F<sub>1</sub>", 865, 377, 14.5,
    xanchor="left")
txt("Spacing by 146 Da", 911, 435, 12, xanchor="left")

fig.update_layout(
    width=W, height=H, margin=dict(l=0, r=0, t=0, b=0),
    paper_bgcolor="white", plot_bgcolor="white", showlegend=False,
    font=dict(family=FONT, color="#111"),
    shapes=shapes, annotations=annotations, **layout_axes)

fig.write_html("out.html", config={"displayModeBar": False})
